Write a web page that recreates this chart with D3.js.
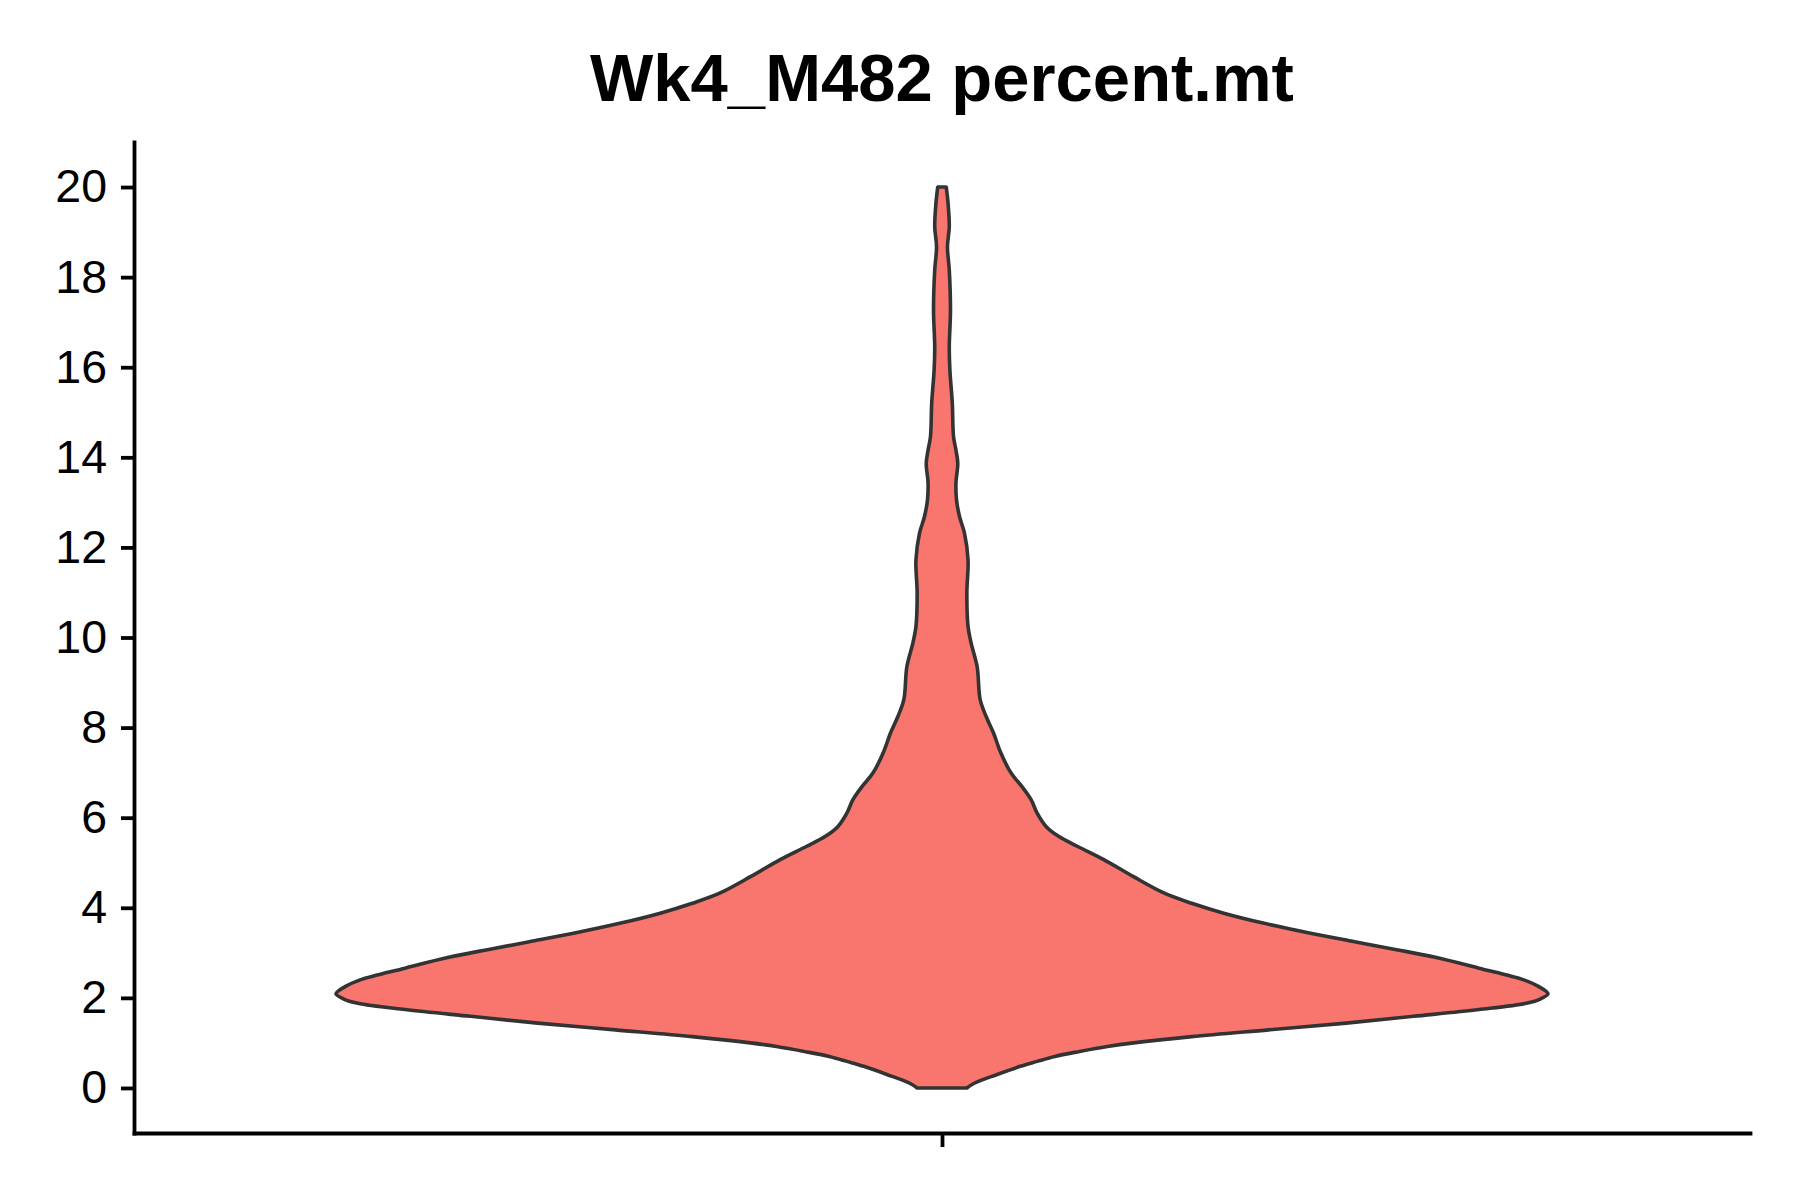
<!DOCTYPE html>
<html>
<head>
<meta charset="utf-8">
<script src="https://cdn.jsdelivr.net/npm/d3@7"></script>
<style>
    body { margin: 0; background: #fff; }
    svg text { font-family: 'Liberation Sans', Arial, sans-serif; fill: #000; }
</style>
</head>
<body>
<svg id="chart" width="1800" height="1200"></svg>
<script>
// violin outline: y value and relative density (max = 1)
const categories = ['Wk4_M482'];
const percentMt = [0, 0.11, 0.3, 0.48, 0.59, 0.7, 0.81, 0.92, 1.0, 1.14, 1.29, 1.44, 1.59, 1.74, 1.88, 1.98,
    2.09, 2.25, 2.4, 2.66, 2.9, 3.07, 3.25, 3.44, 3.66, 3.88, 4.1, 4.33, 4.69, 5.07, 5.36, 5.58, 5.8,
    6.1, 6.4, 6.69, 6.99, 7.44, 7.88, 8.24, 8.62, 9.35, 9.88, 10.24, 10.99, 11.72, 12.32, 12.68, 13.05,
    13.43, 13.87, 14.16, 14.46, 15.2, 15.94, 16.45, 17.27, 18.16, 18.67, 19.12, 19.64, 20.0];
const density = [0.041, 0.054, 0.091, 0.129, 0.157, 0.186, 0.227, 0.273, 0.316, 0.412, 0.539, 0.667, 0.778, 0.886, 0.964, 0.988,
    1.0, 0.985, 0.96, 0.886, 0.814, 0.75, 0.679, 0.606, 0.53, 0.465, 0.412, 0.366, 0.316, 0.267, 0.224, 0.193, 0.172,
    0.157, 0.147, 0.132, 0.114, 0.097, 0.085, 0.073, 0.063, 0.058, 0.048, 0.043, 0.041, 0.043, 0.037, 0.029, 0.024,
    0.023, 0.026, 0.023, 0.019, 0.017, 0.013, 0.012, 0.014, 0.012, 0.009, 0.012, 0.01, 0.007];
const yTicks = [0, 2, 4, 6, 8, 10, 12, 14, 16, 18, 20];
const title = 'Wk4_M482 percent.mt';

const margin = { left: 134, right: 50, top: 142, bottom: 67 };
const width = 1800, height = 1200;

const svg = d3.select('#chart');

// discrete x like ggplot: one slot, 0.6 expansion each side
const x = d3.scaleLinear()
    .domain([0.4, categories.length + 0.6])
    .range([margin.left, width - margin.right]);
const y = d3.scaleLinear()
    .domain([-1, 21])
    .range([height - margin.bottom, margin.top]);
const unit = x(1) - x(0);
const w = d3.scaleLinear().domain([0, d3.max(density)]).range([0, 0.45 * unit]);

const points = percentMt.map((v, i) => ({ v: v, d: density[i] }));

categories.forEach((cat, ci) => {
    const cx = x(ci + 1);
    const area = d3.area()
        .curve(d3.curveCatmullRom.alpha(0.5))
        .y(p => y(p.v))
        .x0(p => cx - w(p.d))
        .x1(p => cx + w(p.d));
    svg.append('path')
        .datum(points)
        .attr('d', area)
        .attr('fill', '#F8766D')
        .attr('stroke', '#333333')
        .attr('stroke-width', 3.6)
        .attr('stroke-linejoin', 'round');
});

// axes
const yAxis = svg.append('g')
    .attr('transform', `translate(${margin.left},0)`)
    .call(d3.axisLeft(y).tickValues(yTicks).tickSize(13).tickSizeOuter(0).tickPadding(14));
const xAxis = svg.append('g')
    .attr('transform', `translate(0,${height - margin.bottom})`)
    .call(d3.axisBottom(x).tickValues(categories.map((c, i) => i + 1)).tickSize(14).tickSizeOuter(0).tickFormat(''));

[yAxis, xAxis].forEach(g => {
    g.select('.domain').attr('stroke', '#000').attr('stroke-width', 3.8).attr('stroke-linecap', 'square');
    g.selectAll('.tick line').attr('stroke', '#000').attr('stroke-width', 3.8);
});
yAxis.selectAll('.tick text')
    .attr('font-size', 46.5)
    .attr('fill', '#000')
    .style('font-family', "'Liberation Sans', Arial, sans-serif");

svg.append('text')
    .attr('x', x(1))
    .attr('y', 101)
    .attr('text-anchor', 'middle')
    .attr('font-size', 67)
    .attr('font-weight', 'bold')
    .text(title);
</script>
</body>
</html>
